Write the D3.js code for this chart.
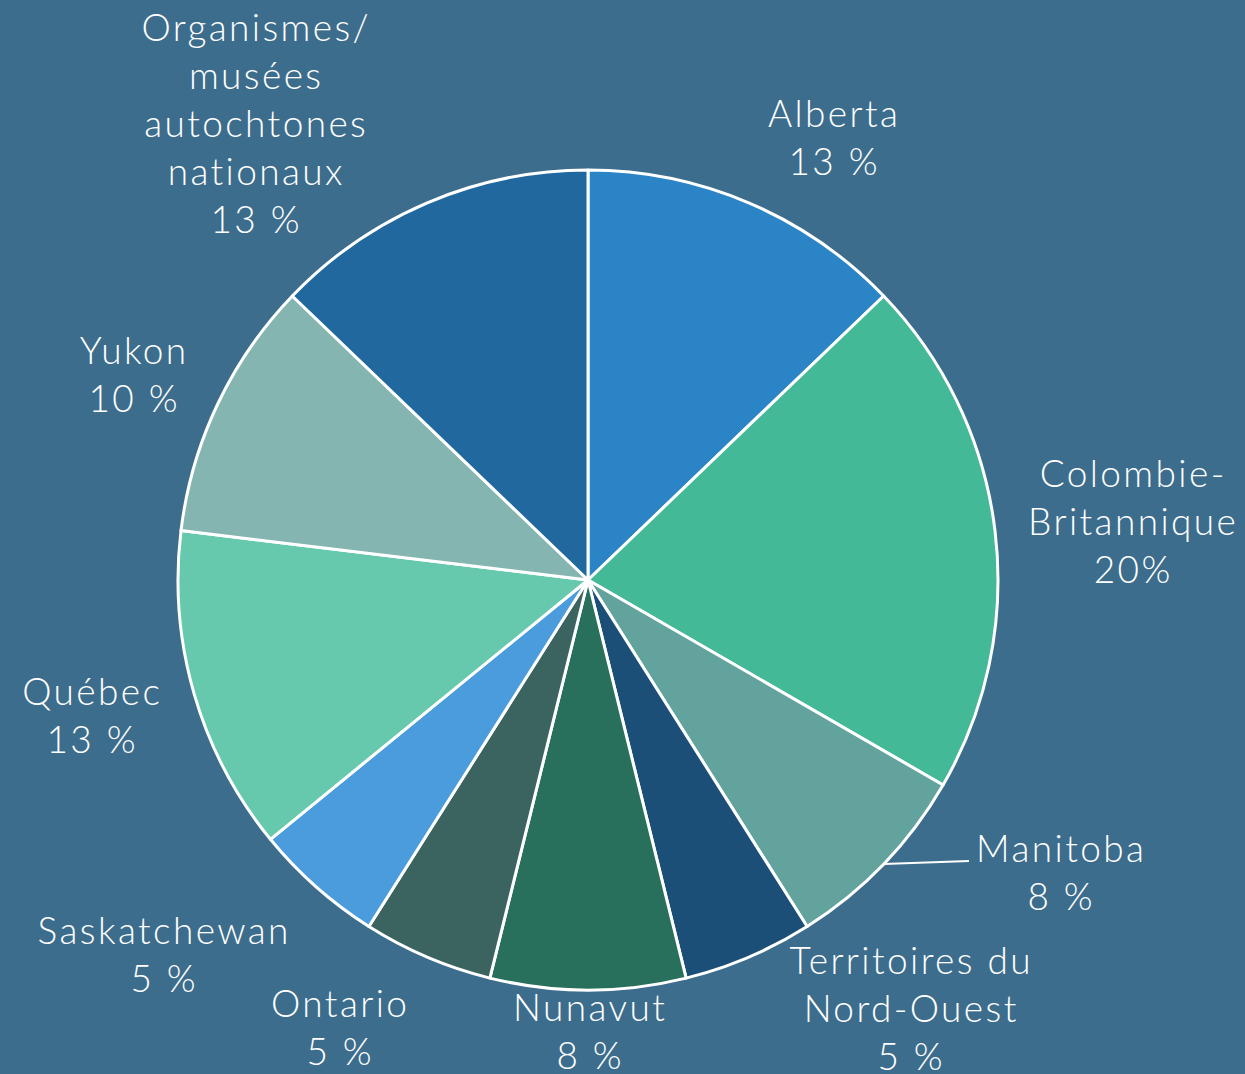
<!DOCTYPE html>
<html><head><meta charset="utf-8">
<script src="https://cdn.jsdelivr.net/npm/d3@7"></script>
<style>
html,body{margin:0;padding:0;background:#3d6d8c;}
svg{display:block;}
text{font-family:"Lato","Noto Sans",sans-serif;font-weight:300;fill:#ffffff;}
</style></head>
<body>
<svg id="chart" width="1245" height="1074"></svg>
<script>
// Data (counts; labels as printed)
const categories = ["Alberta","Colombie-Britannique","Manitoba","Territoires du Nord-Ouest","Nunavut","Ontario","Saskatchewan","Québec","Yukon","Organismes/musées autochtones nationaux"];
const values = [5, 8, 3, 2, 3, 2, 2, 5, 4, 5];
const pctLabels = ["13 %","20%","8 %","5 %","8 %","5 %","5 %","13 %","10 %","13 %"];
const labelLines = [
  ["Alberta"],
  ["Colombie-","Britannique"],
  ["Manitoba"],
  ["Territoires du","Nord-Ouest"],
  ["Nunavut"],
  ["Ontario"],
  ["Saskatchewan"],
  ["Québec"],
  ["Yukon"],
  ["Organismes/","musées","autochtones","nationaux"]
];
const colors = ["#2a84c6","#43b997","#63a39d","#1c4f77","#28705c","#3b6460","#4a9cdc","#66c9ad","#84b5b1","#20689e"];

// Layout
const W = 1245, H = 1074;
const cx = 588, cy = 580, R = 410;
const lineH = 48;
const fontSize = 37;
const letterSp = 2.4;
// label block centres relative to pie centre
const labelOffsets = [[245,-442],[544,-58],[472,293],[322,429],[1,452],[-249,448],[-425,375],[-497,136],[-455,-205],[-333,-456]];

const svg = d3.select("#chart");
svg.append("rect").attr("width",W).attr("height",H).attr("fill","#3d6d8c");

const pie = d3.pie().sort(null).value(d => d);
const arcs = pie(values);
const arc = d3.arc().innerRadius(0).outerRadius(R);
const color = d3.scaleOrdinal().domain(categories).range(colors);

const g = svg.append("g").attr("transform",`translate(${cx},${cy})`);
g.selectAll("path.slice").data(arcs).enter().append("path")
  .attr("class","slice")
  .attr("d", arc)
  .attr("fill", (d,i) => color(categories[i]))
  .attr("stroke","#ffffff")
  .attr("stroke-width",3)
  .attr("stroke-linejoin","round");

// Leader line for Manitoba
{
  const i = 2;
  const a = (arcs[i].startAngle + arcs[i].endAngle)/2;
  const x0 = Math.sin(a)*R, y0 = -Math.cos(a)*R;
  const [ox, oy] = labelOffsets[i];
  const x1 = ox - 91, y1 = oy - 12;
  g.append("path").attr("d", `M${x0},${y0}L${x1},${y1}`)
    .attr("stroke","#ffffff").attr("stroke-width",2).attr("fill","none");
}

// Labels
arcs.forEach((d,i) => {
  const lines = labelLines[i].concat([pctLabels[i]]);
  const [ox, oy] = labelOffsets[i];
  const t = g.append("text").attr("text-anchor","middle").attr("font-size",fontSize)
    .attr("letter-spacing", letterSp);
  lines.forEach((ln,k) => {
    t.append("tspan").attr("x",ox + letterSp/2)
      .attr("y", oy + (k - (lines.length-1)/2)*lineH)
      .attr("dy","0.35em")
      .text(ln);
  });
});
</script>
</body></html>
